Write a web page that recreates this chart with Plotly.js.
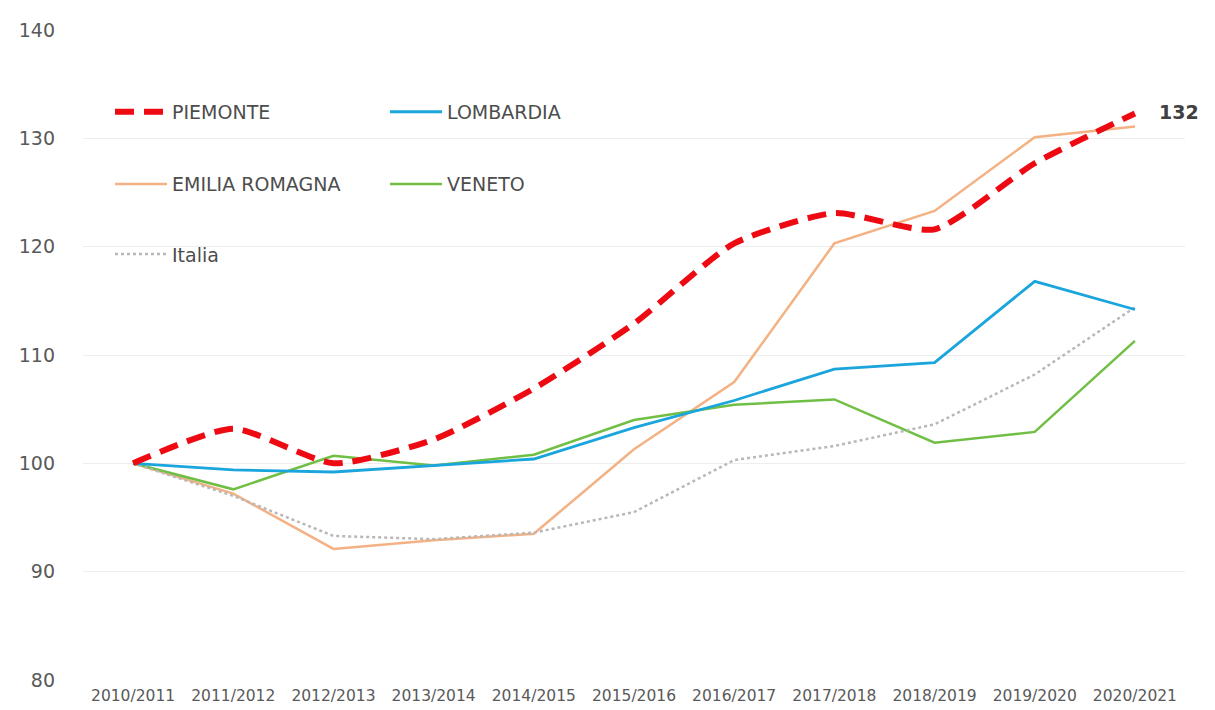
<!DOCTYPE html>
<html><head><meta charset="utf-8">
<script src="https://cdn.plot.ly/plotly-3.0.1.min.js"></script>
<style>body{margin:0;background:#fff}#c{width:1215px;height:710px}</style>
</head><body><div id="c"></div>
<script>
const years = ["2010/2011","2011/2012","2012/2013","2013/2014","2014/2015","2015/2016","2016/2017","2017/2018","2018/2019","2019/2020","2020/2021"];
const piemonte = [100,103.2,100.0,102.2,106.9,112.9,120.3,123.1,121.6,127.7,132.3];
const lombardia = [100,99.4,99.2,99.8,100.4,103.3,105.8,108.7,109.3,116.8,114.2];
const emilia = [100,97.2,92.1,92.9,93.5,101.3,107.5,120.3,123.3,130.1,131.1];
const veneto = [100,97.6,100.7,99.8,100.8,104.0,105.4,105.9,101.9,102.9,111.3];
const italia = [100,97.0,93.3,93.0,93.6,95.5,100.3,101.6,103.6,108.2,114.4];
const lastLabel = "132";

const FONT = "'DejaVu Sans', sans-serif";
const traces = [
  {x:years,y:emilia,name:"EMILIA ROMAGNA",mode:"lines",line:{color:"#f4b183",width:2.5},legend:"legend2"},
  {x:years,y:veneto,name:"VENETO",mode:"lines",line:{color:"#70bf44",width:2.5},legend:"legend2"},
  {x:years,y:italia,name:"Italia",mode:"lines",line:{color:"#b8b8b8",width:2.5,dash:"dot"},legend:"legend3"},
  {x:years,y:lombardia,name:"LOMBARDIA",mode:"lines",line:{color:"#1aa5dc",width:2.8},legend:"legend"},
  {x:years,y:piemonte,name:"PIEMONTE",mode:"lines",line:{color:"#ee0a12",width:6,dash:"19px,10px",shape:"spline",smoothing:0.6},legend:"legend"}
];
const legBase = {orientation:"h",xanchor:"left",yanchor:"middle",bgcolor:"rgba(0,0,0,0)",
  font:{family:FONT,size:19,color:"#4d4d4d"},entrywidth:208,entrywidthmode:"pixels",itemwidth:52,traceorder:"normal"};
const layout = {
  width:1215,height:710,
  margin:{l:83,r:30,t:30,b:30},
  paper_bgcolor:"#fff",plot_bgcolor:"#fff",
  showlegend:true,
  legend:Object.assign({},legBase,{x:0.0245,y:0.874,traceorder:"reversed"}),
  legend2:Object.assign({},legBase,{x:0.0245,y:0.763}),
  legend3:Object.assign({},legBase,{x:0.0245,y:0.655}),
  xaxis:{type:"category",range:[-0.5,10.5],showgrid:false,zeroline:false,showline:false,
    tickfont:{family:FONT,size:15.5,color:"#595959"},ticks:"",ticklabelstandoff:4,fixedrange:true},
  yaxis:{range:[80,140],dtick:10,tick0:80,showgrid:true,gridcolor:"#ededed",gridwidth:1,zeroline:false,showline:false,
    tickfont:{family:FONT,size:19,color:"#595959"},ticks:"",ticklabelstandoff:27},
  annotations:[{x:years[years.length-1],y:piemonte[piemonte.length-1],text:"<b>"+lastLabel+"</b>",showarrow:false,
    xanchor:"left",xshift:22,yshift:1,font:{family:FONT,size:19,color:"#404040"}}]
};
Plotly.newPlot("c",traces,layout,{displayModeBar:false,staticPlot:true});
</script></body></html>
